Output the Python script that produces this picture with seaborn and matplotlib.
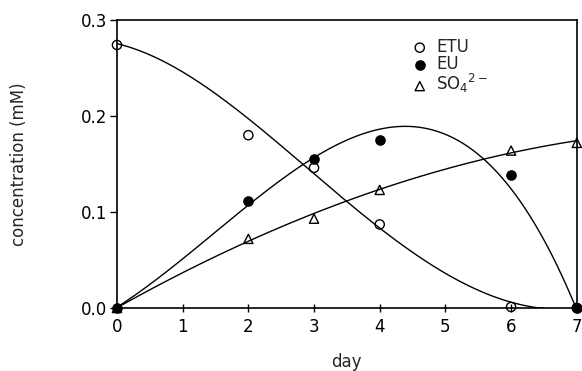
import numpy as np
import pandas as pd
import matplotlib
matplotlib.use("Agg")
import matplotlib.pyplot as plt
import seaborn as sns

# measured points
days = [0, 2, 3, 4, 6, 7]
etu = [0.274, 0.180, 0.146, 0.087, 0.001, 0.0]
eu = [0.0, 0.111, 0.155, 0.175, 0.139, 0.0]
so4 = [0.0, 0.072, 0.093, 0.123, 0.164, 0.172]

# fitted curves
etu_curve_x = [0, 0.5, 1, 1.5, 2, 2.5, 3, 3.5, 4, 4.5, 5, 5.5, 6, 6.5]
etu_curve_y = [0.275, 0.263, 0.248, 0.224, 0.197, 0.166, 0.138, 0.112, 0.087,
               0.058, 0.035, 0.017, 0.006, 0.0]
eu_curve_x = [0, 1, 2, 3, 3.5, 4, 4.4, 5, 5.5, 6, 6.5, 7]
eu_curve_y = [0.0, 0.053, 0.107, 0.154, 0.174, 0.187, 0.191, 0.183, 0.160,
              0.123, 0.068, 0.0]
so4_curve_x = [0, 1, 2, 3, 4, 5, 6, 7]
so4_curve_y = [0.0, 0.037, 0.070, 0.098, 0.123, 0.145, 0.162, 0.174]

sns.set_style("ticks")
plt.rcParams["font.family"] = ["DejaVu Sans"]
plt.rcParams["mathtext.default"] = "regular"
plt.rcParams["font.size"] = 12

fig = plt.figure(figsize=(5.82, 3.71), dpi=100)
ax = fig.add_axes([0.201, 0.170, 0.790, 0.776])


def smooth(xk, yk, deg):
    c = np.polyfit(xk, yk, deg)
    xs = np.linspace(xk[0], xk[-1], 300)
    return pd.DataFrame({"day": xs, "conc": np.clip(np.polyval(c, xs), 0, None)})


for cx, cy, deg in [(etu_curve_x, etu_curve_y, 4),
                    (eu_curve_x, eu_curve_y, 4),
                    (so4_curve_x, so4_curve_y, 3)]:
    sns.lineplot(data=smooth(cx, cy, deg), x="day", y="conc", ax=ax,
                 color="black", lw=1.0, legend=False)

pts = pd.DataFrame({"day": days, "ETU": etu, "EU": eu, "SO4": so4})
styles = [("ETU", "o", "none", "ETU"),
          ("EU", "o", "black", "EU"),
          ("SO4", "^", "none", r"SO$_4$$^{2-}$")]
for col, mk, fc, lab in styles:
    sns.scatterplot(data=pts, x="day", y=col, ax=ax, marker=mk, s=44,
                    color="black", facecolor=fc, edgecolor="black",
                    linewidth=1.0, label=lab, clip_on=False, zorder=5)

ax.set_xlim(0, 7)
ax.set_ylim(0, 0.3)
ax.set_xticks(range(0, 8))
ax.set_yticks([0.0, 0.1, 0.2, 0.3])
ax.set_yticklabels(["0.0", "0.1", "0.2", "0.3"])
ax.tick_params(axis="x", direction="inout", length=6, width=1, pad=4,
               labelsize=12, colors="black")
ax.tick_params(axis="y", direction="out", length=5, width=1, pad=2,
               labelsize=12, colors="black")
for sp in ax.spines.values():
    sp.set_visible(True)
    sp.set_linewidth(1.2)
    sp.set_color("black")

ax.set_xlabel("day", fontsize=12)
ax.set_ylabel("concentration (mM)", fontsize=12)
ax.xaxis.set_label_coords(0.5, -0.158)
ax.yaxis.set_label_coords(-0.193, 0.5)

ax.legend(loc="upper left", bbox_to_anchor=(0.644, 0.9375), frameon=False,
          borderpad=0, borderaxespad=0, handlelength=0.8, handletextpad=0.6,
          labelspacing=-0.05, scatterpoints=1, fontsize=12)

fig.savefig("out.png", dpi=100)
